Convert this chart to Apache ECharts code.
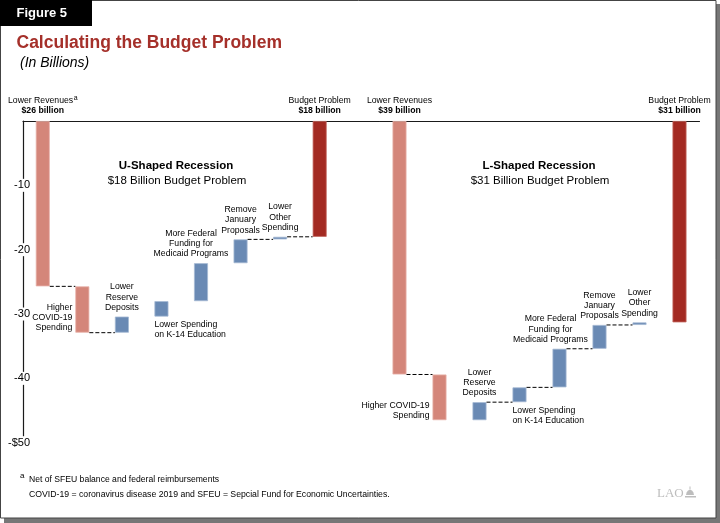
<!DOCTYPE html>
<html><head><meta charset="utf-8">
<script src="https://cdn.jsdelivr.net/npm/echarts@6/dist/echarts.min.js"></script>
<style>html,body{margin:0;padding:0;background:#fff}#c{width:720px;height:523px}</style>
</head><body><div id="c"></div>
<script>
// ---------- DATA ----------
const categories = ['Lower Revenues', 'Higher COVID-19 Spending', 'Lower Reserve Deposits',
  'Lower Spending on K-14 Education', 'More Federal Funding for Medicaid Programs',
  'Remove January Proposals', 'Lower Other Spending', 'Budget Problem'];
// step changes (billions); final "Budget Problem" bar is their sum
const uShapedChanges = [-25.7, -7.2, 2.5, 2.4, 5.9, 3.7, 0.4];
const lShapedChanges = [-39.4, -7.1, 2.8, 2.3, 6.0, 3.7, 0.4];
const uShapedLabels = ['Lower Revenues', 'Higher\nCOVID-19\nSpending', 'Lower\nReserve\nDeposits',
  'Lower Spending\non K-14 Education', 'More Federal\nFunding for\nMedicaid Programs',
  'Remove\nJanuary\nProposals', 'Lower\nOther\nSpending', 'Budget Problem'];
const lShapedLabels = ['Lower Revenues', 'Higher COVID-19\nSpending', 'Lower\nReserve\nDeposits',
  'Lower Spending\non K-14 Education', 'More Federal\nFunding for\nMedicaid Programs',
  'Remove\nJanuary\nProposals', 'Lower\nOther\nSpending', 'Budget Problem'];
const uShapedAmounts = ['$26 billion', '$18 billion'];
const lShapedAmounts = ['$39 billion', '$31 billion'];
const uShapedConnectorsAfter = [0, 1, 5, 6];
const lShapedConnectorsAfter = [0, 2, 3, 4, 5];
const yTickValues = [0, -10, -20, -30, -40, -50];
const yTickLabels = ['', '-10', '-20', '-30', '-40', '-$50'];
const panelTitles = ['U-Shaped Recession', 'L-Shaped Recession'];
const panelSubtitles = ['$18 Billion Budget Problem', '$31 Billion Budget Problem'];

// ---------- BUILD ----------
const FONT = '"Liberation Sans", Arial, Helvetica, sans-serif';
const COLORS = {up: '#D4867A', down: '#6A8AB4', total: '#A32A22'};
const BORDERS = {up: '#E8B3AB', down: '#A5B9D3', total: '#C46A62'};
const BAR_W = 14;
const LBL_SIZE = 8.7, LBL_LH = 10.3;

const measureCtx = document.createElement('canvas').getContext('2d');
function textWidth(s, size, weight) {
  measureCtx.font = (weight || 'normal') + ' ' + size + 'px ' + FONT;
  return measureCtx.measureText(s).width;
}

function buildWaterfall(changes) {
  const out = []; let cum = 0;
  changes.forEach(c => {
    const start = cum; cum = +(cum + c).toFixed(2);
    out.push({start, end: cum, kind: c < 0 ? 'up' : 'down'});
  });
  out.push({start: 0, end: cum, kind: 'total'});
  return out.map(w => ({...w, top: Math.max(w.start, w.end), bottom: Math.min(w.start, w.end)}));
}

const panels = [
  {changes: uShapedChanges, labels: uShapedLabels, amounts: uShapedAmounts, conn: uShapedConnectorsAfter, sup: true,
   place: [{t:'zero'},{t:'left'},{t:'above'},{t:'below'},{t:'above',dx:-10},{t:'above'},{t:'above'},{t:'zero'}]},
  {changes: lShapedChanges, labels: lShapedLabels, amounts: lShapedAmounts, conn: lShapedConnectorsAfter, sup: false,
   place: [{t:'zero'},{t:'left'},{t:'above'},{t:'below'},{t:'above',dx:-9},{t:'above'},{t:'above'},{t:'zero'}]}
];

function labelText(p, i) {
  const n = p.labels.length - 1;
  if (i === 0) return p.labels[0] + '\n{b|' + p.amounts[0] + '}';
  if (i === n) return p.labels[n] + '\n{b|' + p.amounts[1] + '}';
  return p.labels[i];
}

const series = [];
panels.forEach((p, gi) => {
  const wf = buildWaterfall(p.changes);
  const stack = 'wf' + gi;
  series.push({
    type: 'bar', xAxisIndex: gi, yAxisIndex: gi, stack, barWidth: BAR_W, silent: true,
    itemStyle: {color: 'rgba(0,0,0,0)'}, data: wf.map(w => w.top)
  });
  series.push({
    type: 'bar', xAxisIndex: gi, yAxisIndex: gi, stack, barWidth: BAR_W, silent: true,
    data: wf.map(w => ({value: +(w.bottom - w.top).toFixed(2),
      itemStyle: {color: COLORS[w.kind], borderColor: BORDERS[w.kind], borderWidth: 0.8}}))
  });
  series.push({
    type: 'custom', xAxisIndex: gi, yAxisIndex: gi, silent: true, z: 3,
    data: p.conn.map(i => [i, wf[i].end]),
    renderItem: (params, api) => {
      const i = api.value(0), lv = api.value(1);
      const a = api.coord([i, lv]), b = api.coord([i + 1, lv]);
      return {type: 'line', shape: {x1: a[0] + BAR_W / 2, y1: a[1], x2: b[0] - BAR_W / 2, y2: b[1]},
        style: {stroke: '#000', lineWidth: 1, lineDash: [4, 2]}};
    }
  });
  series.push({
    type: 'custom', xAxisIndex: gi, yAxisIndex: gi, silent: true, z: 4,
    data: wf.map((w, i) => [i, w.top]),
    renderItem: (params, api) => {
      const i = api.value(0); const w = wf[i]; const pl = p.place[i];
      const cx = api.coord([i, 0])[0];
      const topPx = api.coord([i, w.top])[1], botPx = api.coord([i, w.bottom])[1];
      let x, y, align, va;
      if (pl.t === 'zero') { x = cx; y = topPx - 5; align = 'center'; va = 'bottom'; }
      else if (pl.t === 'left') { x = cx - BAR_W / 2 - 3; y = botPx + 0.5; align = 'right'; va = 'bottom'; }
      else if (pl.t === 'above') { x = cx + (pl.dx || 0); y = topPx - 4; align = 'center'; va = 'bottom'; }
      else { x = cx - BAR_W / 2; y = botPx + 3; align = 'left'; va = 'top'; }
      const main = {type: 'text', x, y, style: {
        text: labelText(p, i), fill: '#000', fontSize: LBL_SIZE, fontFamily: FONT, lineHeight: LBL_LH,
        align, verticalAlign: va,
        rich: {b: {fontWeight: 'bold', fontSize: LBL_SIZE, fontFamily: FONT, lineHeight: LBL_LH}}
      }};
      if (i === 0 && p.sup) {
        // superscript note marker after the first line
        const w1 = textWidth(p.labels[0], LBL_SIZE);
        const wa = textWidth('a', 7);
        const lineStart = x - (w1 + wa + 0.5) / 2;
        main.style.text = '{l|' + p.labels[0] + '}\n{b|' + p.amounts[0] + '}';
        main.style.rich.l = {fontSize: LBL_SIZE, fontFamily: FONT, lineHeight: LBL_LH, width: w1 + wa + 0.5, align: 'left'};
        return {type: 'group', children: [main,
          {type: 'text', x: lineStart + w1 + 0.5, y: y - 2 * LBL_LH - 1, style: {text: 'a', fill: '#000', fontSize: 7, fontFamily: FONT, align: 'left', verticalAlign: 'top'}}]};
      }
      return main;
    }
  });
});

const gridTop = 121, gridBottom = 80.3;
const option = {
  animation: false,
  grid: [
    {left: 23, top: gridTop, width: 356, bottom: gridBottom},
    {left: 379.5, top: gridTop, width: 320, bottom: gridBottom}
  ],
  xAxis: [0, 1].map(gi => ({
    type: 'category', gridIndex: gi, position: 'top',
    data: gi === 0 ? categories.concat(['']) : categories,
    axisLine: {show: true, onZero: false, lineStyle: {color: '#1a1a1a', width: 1.2}},
    axisTick: {show: false}, axisLabel: {show: false}, splitLine: {show: false}
  })),
  yAxis: [0, 1].map(gi => ({
    type: 'value', gridIndex: gi, min: -50, max: 0, interval: 10,
    axisLine: {show: gi === 0, lineStyle: {color: '#1a1a1a', width: 1.2}},
    axisTick: {show: false}, splitLine: {show: false},
    axisLabel: {show: gi === 0, margin: -7,
      formatter: v => { const k = yTickValues.indexOf(v); const s = k >= 0 ? yTickLabels[k] : ''; return s ? '{w|' + s + '}' : ''; },
      rich: {w: {backgroundColor: '#fff', fontSize: 11, fontFamily: FONT, color: '#000', padding: [1, 0, 1, 0]}}}
  })),
  series,
  graphic: [
    {type: 'rect', z: -20, silent: true, shape: {x: 4, y: 4, width: 716, height: 519}, style: {fill: '#777'}},
    {type: 'rect', z: -19, silent: true, shape: {x: 0.5, y: 0.5, width: 715.5, height: 517.5}, style: {fill: '#fff', stroke: '#444', lineWidth: 1}},
    {type: 'rect', z: 10, silent: true, shape: {x: 0, y: 0, width: 92, height: 26}, style: {fill: '#000'}},
    {type: 'text', z: 11, silent: true, x: 16.5, y: 13, style: {text: 'Figure 5', fill: '#fff', fontSize: 13, fontWeight: 'bold', fontFamily: FONT, verticalAlign: 'middle'}},
    {type: 'text', z: 11, silent: true, x: 16.5, y: 43.5, style: {text: 'Calculating the Budget Problem', fill: '#A5302A', fontSize: 17.5, fontWeight: 'bold', fontFamily: FONT, verticalAlign: 'middle'}},
    {type: 'text', z: 11, silent: true, x: 20, y: 63.5, style: {text: '(In Billions)', fill: '#000', fontSize: 14, fontStyle: 'italic', fontFamily: FONT, verticalAlign: 'middle'}},
    {type: 'text', z: 11, silent: true, x: 176, y: 166, style: {text: panelTitles[0], fill: '#000', fontSize: 11.5, fontWeight: 'bold', fontFamily: FONT, align: 'center', verticalAlign: 'middle'}},
    {type: 'text', z: 11, silent: true, x: 177, y: 180.5, style: {text: panelSubtitles[0], fill: '#000', fontSize: 11.5, fontFamily: FONT, align: 'center', verticalAlign: 'middle'}},
    {type: 'text', z: 11, silent: true, x: 539, y: 166, style: {text: panelTitles[1], fill: '#000', fontSize: 11.5, fontWeight: 'bold', fontFamily: FONT, align: 'center', verticalAlign: 'middle'}},
    {type: 'text', z: 11, silent: true, x: 540, y: 180.5, style: {text: panelSubtitles[1], fill: '#000', fontSize: 11.5, fontFamily: FONT, align: 'center', verticalAlign: 'middle'}},
    {type: 'text', z: 11, silent: true, x: 20, y: 475.5, style: {text: 'a', fill: '#000', fontSize: 8, fontFamily: FONT, verticalAlign: 'middle'}},
    {type: 'text', z: 11, silent: true, x: 29, y: 479.5, style: {text: 'Net of SFEU balance and federal reimbursements', fill: '#000', fontSize: 8.6, fontFamily: FONT, verticalAlign: 'middle'}},
    {type: 'text', z: 11, silent: true, x: 29, y: 494.5, style: {text: 'COVID-19 = coronavirus disease 2019 and SFEU = Sepcial Fund for Economic Uncertainties.', fill: '#000', fontSize: 8.7, fontFamily: FONT, verticalAlign: 'middle'}},
    {type: 'text', z: 11, silent: true, x: 657, y: 493.5, style: {text: 'LAO', fill: '#bdbdbd', fontSize: 13, fontFamily: '"Liberation Serif", "Times New Roman", serif', verticalAlign: 'middle'}},
    {type: 'polygon', z: 11, silent: true, shape: {points: [[686,495],[686.6,492.4],[688,490.6],[690,489.8],[692,490.6],[693.4,492.4],[694,495]]}, style: {fill: '#bdbdbd'}},
    {type: 'rect', z: 11, silent: true, shape: {x: 685, y: 496, width: 11, height: 1.5}, style: {fill: '#bdbdbd'}},
    {type: 'rect', z: 11, silent: true, shape: {x: 689.5, y: 486.5, width: 1, height: 3}, style: {fill: '#bdbdbd'}}
  ]
};
const chart = echarts.init(document.getElementById('c'));
chart.setOption(option);
</script>
</body></html>
